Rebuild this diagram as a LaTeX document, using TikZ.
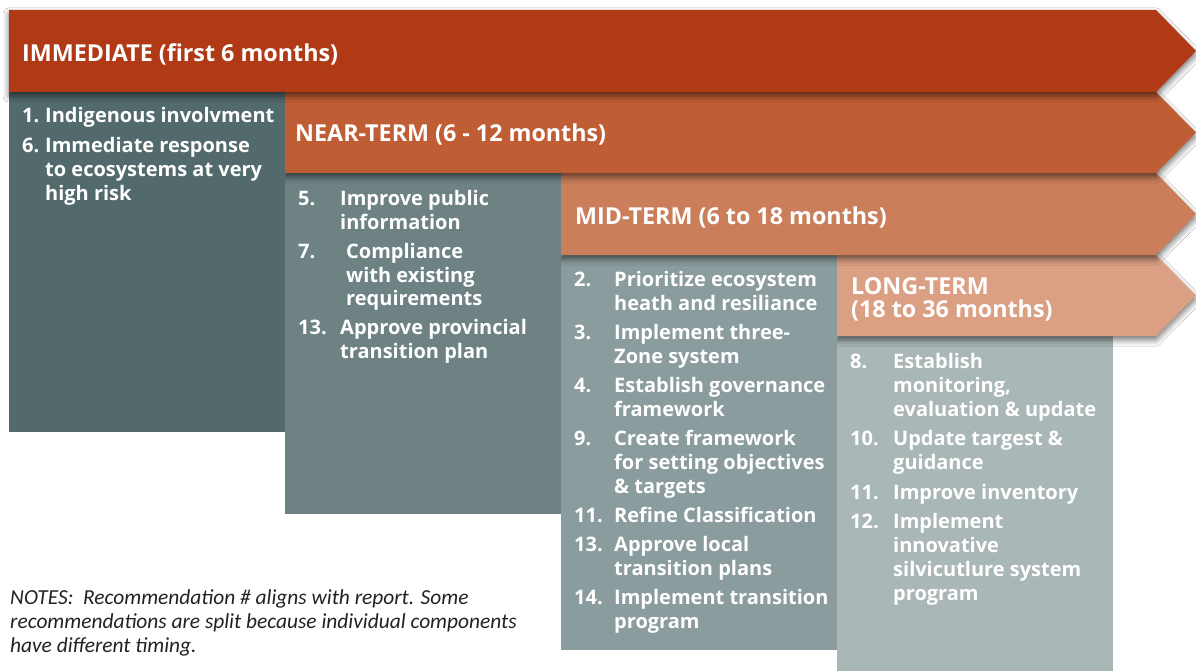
\documentclass[tikz,border=0pt]{standalone}
\usepackage{fontspec}
\setmainfont{Open Sans}
\newfontfamily\notefont{Carlito}
\usetikzlibrary{shadows.blur}
\definecolor{ban1}{HTML}{B03A16}
\definecolor{ban2}{HTML}{BF5D34}
\definecolor{ban3}{HTML}{CB7E5A}
\definecolor{ban4}{HTML}{DBA083}
\definecolor{col1}{HTML}{536A6C}
\definecolor{col2}{HTML}{6E8284}
\definecolor{col3}{HTML}{8A9C9D}
\definecolor{col4}{HTML}{AAB7B7}
\definecolor{notecol}{HTML}{222222}
\tikzset{
  banner/.style={blur shadow={shadow xshift=0pt, shadow yshift=-4pt, shadow blur radius=6pt, shadow opacity=55}},
  head/.style={anchor=base west, inner sep=0pt, text=white, font=\fontsize{23.3}{23.3}\selectfont\bfseries},
  body/.style={anchor=base west, inner sep=0pt, text=white, font=\fontsize{20}{20}\selectfont\bfseries},
  note/.style={anchor=base west, inner sep=0pt, text=notecol, font=\fontsize{21.4}{21.4}\notefont\itshape},
}
\newcommand\bannerpath[3]{(#1,#2) -- (1156,#2) -- (1196,{(#2+#3)/2}) -- (1156,#3) -- (#1,#3) -- cycle}
\newcommand\bodyline[4]{\node[body] (#1) at (#2,#3) {#4};}
\begin{document}
\begin{tikzpicture}[x=1pt,y=-1pt]
\useasboundingbox[fill=white] (0,0) rectangle (1196,671);
% layers from back to front
\fill[col4] (837,336) rectangle (1113,671);
\fill[ban4, banner] \bannerpath{837}{255}{336};
\fill[col3] (561,255) rectangle (837,650);
\fill[ban3, banner] \bannerpath{561}{173}{255};
\fill[col2] (285,173) rectangle (561,514);
\fill[ban2, banner] \bannerpath{285}{92}{173};
\fill[col1] (9,92) rectangle (285,432);
\fill[ban1, banner] \bannerpath{9}{10}{92};
% headings
\node[head] (h1) at (22,62) {IMMEDIATE (first 6 months)};
\node[head] (h2) at (295,142) {NEAR-TERM (6 - 12 months)};
\node[head] (h3) at (575,224) {MID-TERM (6 to 18 months)};
\node[head] (h4a) at (851,294) {LONG-TERM};
\node[head] (h4b) at (851,317) {(18 to 36 months)};
% column 1
\bodyline{n1}{22}{123}{1.}
\bodyline{t1a}{45}{123}{Indigenous involvment}
\bodyline{n6}{22}{153}{6.}
\bodyline{t6a}{45}{153}{Immediate response}
\bodyline{t6b}{45}{177}{to ecosystems at very}
\bodyline{t6c}{45}{200.5}{high risk}
% column 2
\bodyline{n5}{298}{206}{5.}
\bodyline{t5a}{340}{206}{Improve public}
\bodyline{t5b}{340}{229.5}{information}
\bodyline{n7}{298}{258}{7.}
\bodyline{t7a}{346}{258}{Compliance}
\bodyline{t7b}{346}{282}{with existing}
\bodyline{t7c}{346}{305.5}{requirements}
\bodyline{n13a}{298}{334.5}{13.}
\bodyline{t13a}{340}{334.5}{Approve provincial}
\bodyline{t13b}{340}{358.5}{transition plan}
% column 3
\bodyline{n2}{574}{286.5}{2.}
\bodyline{t2a}{614}{286.5}{Prioritize ecosystem}
\bodyline{t2b}{614}{310.5}{heath and resiliance}
\bodyline{n3}{574}{339.5}{3.}
\bodyline{t3a}{614}{339.5}{Implement three-}
\bodyline{t3b}{614}{363.5}{Zone system}
\bodyline{n4}{574}{392}{4.}
\bodyline{t4a}{614}{392}{Establish governance}
\bodyline{t4b}{614}{416}{framework}
\bodyline{n9}{574}{445.5}{9.}
\bodyline{t9a}{614}{445.5}{Create framework}
\bodyline{t9b}{614}{469.5}{for setting objectives}
\bodyline{t9c}{614}{493.5}{\& targets}
\bodyline{n11a}{574}{522.5}{11.}
\bodyline{t11a}{614}{522.5}{Refine Classification}
\bodyline{n13b}{574}{551.5}{13.}
\bodyline{t13c}{614}{551.5}{Approve local}
\bodyline{t13d}{614}{575.5}{transition plans}
\bodyline{n14}{574}{604.5}{14.}
\bodyline{t14a}{614}{604.5}{Implement transition}
\bodyline{t14b}{614}{628.5}{program}
% column 4
\bodyline{n8}{850}{368.5}{8.}
\bodyline{t8a}{893}{368.5}{Establish}
\bodyline{t8b}{893}{392.5}{monitoring,}
\bodyline{t8c}{893}{416}{evaluation \& update}
\bodyline{n10}{850}{445.5}{10.}
\bodyline{t10a}{893}{445.5}{Update targest \&}
\bodyline{t10b}{893}{469.5}{guidance}
\bodyline{n11b}{850}{499}{11.}
\bodyline{t11b}{893}{499}{Improve inventory}
\bodyline{n12}{850}{528}{12.}
\bodyline{t12a}{893}{528}{Implement}
\bodyline{t12b}{893}{552}{innovative}
\bodyline{t12c}{893}{576}{silvicutlure system}
\bodyline{t12d}{893}{600}{program}
% notes
\node[note] (nt1) at (10,604) {NOTES:\ \ Recommendation \# aligns with report. Some};
\node[note] (nt2) at (10,628) {recommendations are split because individual components};
\node[note] (nt3) at (10,652) {have different timing.};
\end{tikzpicture}
\end{document}
